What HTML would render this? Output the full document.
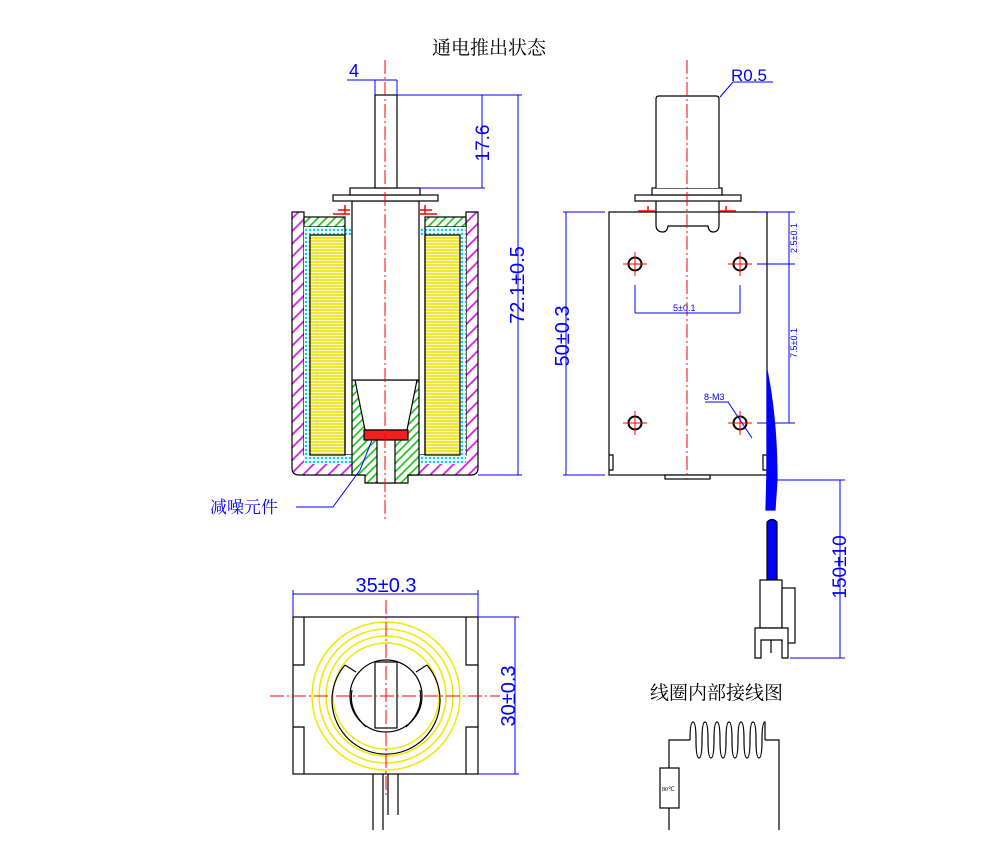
<!DOCTYPE html>
<html><head><meta charset="utf-8"><style>
html,body{margin:0;padding:0;background:#fff;}
svg{display:block}
.d{font-family:"Liberation Sans",sans-serif;fill:#00f}
.cj{font-family:"Liberation Serif","Noto Serif CJK SC",serif}
</style></head><body>
<svg width="1000" height="865" viewBox="0 0 1000 865" xmlns="http://www.w3.org/2000/svg">
<defs>
<pattern id="mag" width="9" height="9" patternUnits="userSpaceOnUse" patternTransform="rotate(45)"><rect width="9" height="9" fill="#fff"/><line x1="1" y1="0" x2="1" y2="9" stroke="#d020e0" stroke-width="1.8"/></pattern>
<pattern id="grn" width="6" height="6" patternUnits="userSpaceOnUse" patternTransform="rotate(45)"><rect width="6" height="6" fill="#fff"/><line x1="1" y1="0" x2="1" y2="6" stroke="#10c010" stroke-width="1.6"/></pattern>
<pattern id="yel" width="4" height="3" patternUnits="userSpaceOnUse"><rect width="4" height="3" fill="#fff8c0"/><line x1="0" y1="1" x2="4" y2="1" stroke="#e8e000" stroke-width="1.4"/></pattern>
<pattern id="cy" width="4" height="4" patternUnits="userSpaceOnUse"><rect width="4" height="4" fill="#e8fbff"/><circle cx="2" cy="2" r="1.2" fill="#20c8e0"/></pattern>
</defs>
<g stroke="#000" stroke-width="1.2" fill="none">
<text x="432" y="54" class="cj" font-size="19" fill="#000" stroke="none">通电推出状态</text>
<text x="650" y="699" class="cj" font-size="19" fill="#000" stroke="none">线圈内部接线图</text>

<!-- LEFT SECTION VIEW -->
<path d="M292 212 H304 V455 H466 V212 H478 V468 Q478 475 471 475 H299 Q292 475 292 468 Z" fill="url(#mag)"/>
<rect x="304" y="217" width="41" height="10" fill="url(#grn)"/>
<rect x="425" y="217" width="41" height="10" fill="url(#grn)"/>
<path d="M304 227 H352 V235 H310 V455 H352 V464 H304 Z" fill="url(#cy)" stroke="none"/>
<path d="M418 227 H466 V464 H418 V455 H460 V235 H418 Z" fill="url(#cy)" stroke="none"/>
<rect x="310" y="235" width="35" height="220" fill="url(#yel)"/>
<rect x="425" y="235" width="35" height="220" fill="url(#yel)"/>
<line x1="345" y1="227" x2="345" y2="455"/><line x1="425" y1="227" x2="425" y2="455"/>
<path d="M352 380 H419 V475 H408 V483 H365 V475 H352 Z" fill="url(#grn)"/>
<path d="M355 380 H417 L407 430 H365 Z" fill="#fff"/>
<rect x="364" y="430" width="44" height="10" fill="#f02020"/>
<rect x="377" y="440" width="18" height="43" fill="#fff"/>
<rect x="352" y="201" width="67" height="179" fill="#fff"/>
<rect x="333" y="195" width="105" height="6" fill="#fff"/>
<rect x="350" y="188" width="70" height="7" fill="#fff"/>
<rect x="375" y="95" width="22" height="93" fill="#fff"/>
<g stroke="#f00" stroke-width="1.5"><path d="M333 214 H350 M338 210 H350 M345 205 V214"/><path d="M420 214 H437 M420 210 H432 M425 205 V214"/></g>
<line x1="385" y1="60" x2="385" y2="520" stroke="#f00" stroke-dasharray="14 3 2 3" stroke-width="1"/>
<g stroke="#00f" stroke-width="1">
<path d="M347 80 H397 M375 80 V95 M397 80 V95"/>
<path d="M397 95 H522 M420 188 H485 M482 95 V188 M518 95 V475 M478 475 H522"/>
<path d="M296 507 H333 L360 470 L372 440"/>
</g>
<text x="349" y="77" class="d" font-size="18" stroke="none">4</text>
<text transform="translate(489,143) rotate(-90)" class="d" font-size="19" text-anchor="middle" stroke="none">17.6</text>
<text transform="translate(524,285) rotate(-90)" class="d" font-size="20" text-anchor="middle" stroke="none">72.1±0.5</text>
<text x="210" y="513" class="cj" font-size="17" fill="#00f" stroke="none">减噪元件</text>

<!-- RIGHT VIEW -->
<rect x="609" y="212" width="158" height="263" fill="#fff"/>
<path d="M609 455 H613 V470 H609 M767 455 H763 V470 H767"/>
<rect x="665" y="475" width="45" height="4" fill="#fff"/>
<path d="M656 212 V225 Q656 232 663 232 Q667 232 668 226 H708 Q709 232 713 232 Q719 232 719 225 V212"/>
<rect x="635" y="195" width="106" height="6" fill="#fff"/>
<rect x="652" y="188" width="70" height="7" fill="#fff"/>
<path d="M656 201 V212 M719 201 V212"/>
<path d="M656 188 V99 Q656 96 659 96 H716 Q719 96 719 99 V188" fill="#fff"/>
<g stroke="#f00" stroke-width="1.5"><path d="M638 211 H656 M648 206 V211 M719 211 H736 M726 206 V211"/></g>
<g stroke-width="2">
<circle cx="635" cy="264" r="6.5"/><circle cx="740" cy="264" r="6.5"/><circle cx="635" cy="423" r="6.5"/><circle cx="740" cy="423" r="6.5"/>
</g>
<g stroke="#f00" stroke-width="1"><path d="M623 264 H647 M635 252 V276 M728 264 H752 M740 252 V276 M623 423 H647 M635 411 V435 M728 423 H752 M740 411 V435"/></g>
<line x1="687" y1="60" x2="687" y2="480" stroke="#f00" stroke-dasharray="14 3 2 3" stroke-width="1"/>
<path d="M767 370 Q777 420 777 480 L775 510 H766 L767 470 Z" fill="#00f" stroke="#00f"/>
<g stroke="#00f" stroke-width="1">
<path d="M635 285 V313 M740 285 V313 M635 313 H740"/>
<path d="M757 212 H795 M757 264 H795 M757 423 H795 M789 212 V423"/>
<path d="M563 212 H605 M563 475 H605 M566 212 V475"/>
<path d="M720 97 L733 82 H773"/>
<path d="M705 402 H728 L752 438"/>
<path d="M775 480 H845 M790 658 H845 M840 480 V658"/>
</g>
<text x="731" y="81" class="d" font-size="17" stroke="none">R0.5</text>
<text x="673" y="311" class="d" font-size="9" stroke="none">5±0.1</text>
<text transform="translate(797,238) rotate(-90)" class="d" font-size="9" text-anchor="middle" stroke="none">2.5±0.1</text>
<text transform="translate(797,343) rotate(-90)" class="d" font-size="9" text-anchor="middle" stroke="none">7.5±0.1</text>
<text x="704" y="400" class="d" font-size="9" stroke="none">8-M3</text>
<text transform="translate(569,336) rotate(-90)" class="d" font-size="20" text-anchor="middle" stroke="none">50±0.3</text>
<text transform="translate(846,567) rotate(-90)" class="d" font-size="19" text-anchor="middle" stroke="none">150±10</text>
<path d="M767 522 Q772 517 777 522 V580 H767 Z" fill="#00f" stroke="#000"/>
<rect x="760" y="580" width="22" height="48" fill="#fff"/>
<rect x="782" y="588" width="13" height="55" fill="#fff"/>
<path d="M755 628 H788 V658 H782 V640 H761 V658 H755 Z" fill="#fff"/>
<line x1="771" y1="640" x2="771" y2="653"/>

<!-- BOTTOM VIEW -->
<rect x="293" y="617" width="185" height="157" fill="#fff"/>
<path d="M293 665 H304 V617 M293 727 H304 V774 M478 665 H466 V617 M478 727 H466 V774"/>
<g stroke="#f0e800" stroke-width="1.5"><circle cx="386" cy="696" r="74"/><circle cx="386" cy="696" r="67"/><circle cx="386" cy="696" r="60"/><circle cx="386" cy="696" r="53"/></g>
<path d="M345 665 A54 54 0 1 0 427 665"/>
<path d="M345 665 L356 672 M427 665 L416 672"/>
<circle cx="386" cy="696" r="36"/>
<path d="M352 690 Q348 710 366 727 M420 690 Q424 710 406 727"/>
<rect x="375" y="662" width="22" height="66" fill="none"/>
<line x1="270" y1="696" x2="500" y2="696" stroke="#f00" stroke-dasharray="14 3 2 3" stroke-width="1"/>
<line x1="386" y1="600" x2="386" y2="795" stroke="#f00" stroke-dasharray="14 3 2 3" stroke-width="1"/>
<path d="M373 774 V830 M383 774 V830 M388 774 V815 M398 774 V815"/>
<g stroke="#00f" stroke-width="1">
<path d="M293 594 H478 M293 590 V617 M478 590 V617"/>
<path d="M478 617 H519 M478 774 H519 M515 617 V774"/>
</g>
<text x="386" y="592" class="d" font-size="20" text-anchor="middle" stroke="none">35±0.3</text>
<text transform="translate(515,696) rotate(-90)" class="d" font-size="20" text-anchor="middle" stroke="none">30±0.3</text>

<!-- CIRCUIT -->
<path d="M669 830 V808 M669 768 V740 H690 M765 740 H779 V830"/>
<rect x="660" y="768" width="19" height="40" fill="#fff"/>
<text x="662" y="791" font-size="6" fill="#000" stroke="none" font-family="Liberation Serif,serif">80℃</text>
<path d="M690 740 Q690 722 693 722 Q696 722 696 740 Q696 758 699 758 Q702 758 702 740 Q702 722 705 722 Q708 722 708 740 Q708 758 711 758 Q714 758 714 740 Q714 722 717 722 Q720 722 720 740 Q720 758 723 758 Q726 758 726 740 Q726 722 729 722 Q732 722 732 740 Q732 758 735 758 Q738 758 738 740 Q738 722 741 722 Q744 722 744 740 Q744 758 747 758 Q750 758 750 740 Q750 722 753 722 Q756 722 756 740 Q756 758 759 758 Q762 758 762 740 Q762 722 765 722 V740"/>
</g>
</svg>
</body></html>
